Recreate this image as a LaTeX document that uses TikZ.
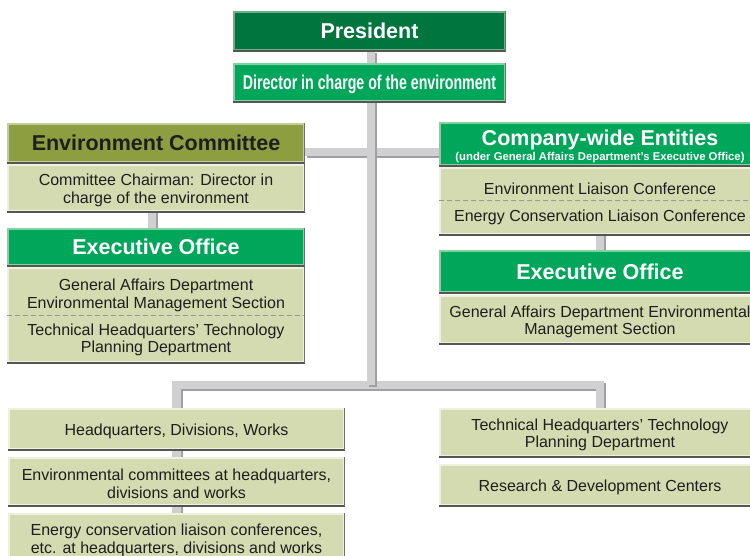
\documentclass[tikz,border=0pt]{standalone}
\usepackage{fontspec}
\setmainfont{Liberation Sans}
\newfontfamily\condb{Liberation Sans Bold}[FakeStretch=0.71]
\usetikzlibrary{calc,backgrounds}
\definecolor{presgreen}{RGB}{0,118,62}
\definecolor{presedge}{RGB}{110,175,130}
\definecolor{hdgreen}{RGB}{0,166,90}
\definecolor{hdedge}{RGB}{130,210,160}
\definecolor{olivec}{RGB}{140,158,64}
\definecolor{oliveedge}{RGB}{195,205,155}
\definecolor{khaki}{RGB}{213,219,176}
\definecolor{khakiedge}{RGB}{238,241,222}
\definecolor{txt}{RGB}{30,30,30}
\definecolor{shadec}{RGB}{85,85,85}
\definecolor{barlight}{RGB}{208,208,211}
\definecolor{bardark}{RGB}{160,160,163}
\definecolor{dashc}{RGB}{150,150,158}
\newcommand\barpath[1]{\draw[bardk] #1; \draw[barlt] #1;}
\newcommand\tup{\rule{0pt}{16pt}}
\begin{document}
\begin{tikzpicture}[x=1pt,y=-1pt,
  base/.style={rectangle, inner sep=0pt, line width=1.5pt},
  hfont/.style={font=\bfseries\fontsize{21.5}{24}\selectfont},
  hdr/.style={base, fill=hdgreen, draw=hdedge, text=white, hfont},
  pbox/.style={base, fill=presgreen, draw=presedge, text=white, hfont},
  obox/.style={base, fill=olivec, draw=oliveedge, text=txt, hfont},
  kbox/.style={base, fill=khaki, draw=khakiedge, text=txt, align=center, font=\fontsize{16}{17.5}\selectfont},
  lbl/.style={inner sep=0pt, text=txt, align=center, font=\fontsize{16}{17.5}\selectfont},
  wlbl/.style={inner sep=0pt, text=white, align=center},
  bardk/.style={draw=bardark, line width=8.5pt, transform canvas={shift={(2pt,-2pt)}}},
  barlt/.style={draw=barlight, line width=8.5pt},
  sepline/.style={draw=dashc, line width=1pt, dash pattern=on 5pt off 3pt},
  botedge/.style={draw=shadec, line width=2pt},
  rightedge/.style={draw=shadec!85, line width=1pt}]
\useasboundingbox (0,0) rectangle (750,556);

% top
\node[pbox, minimum width=271pt, minimum height=38pt] (pres) at (369.5,31) {President};
\node[hdr, font=\condb\fontsize{20}{22}\selectfont, text depth=0pt, minimum width=271pt, minimum height=37pt] (dir) at (369.5,82.5) {Director in charge of the environment};

% left column
\node[obox, minimum width=296pt, minimum height=38pt] (envc) at (156,143) {Environment Committee};
\node[kbox, minimum width=296pt, minimum height=46pt] (chair) at (156,188) {\tup Committee Chairman: Director in\\charge of the environment};
\node[hdr, minimum width=296pt, minimum height=36pt] (lexec) at (156,247) {Executive Office};
\node[kbox, minimum width=296pt, minimum height=94pt] (lbox) at (156,315) {};
\node[lbl] (lt1) at (156,293) {\tup General Affairs Department\\Environmental Management Section};
\node[lbl] (lt2) at (156,337.5) {\tup Technical Headquarters’ Technology\\Planning Department};
\coordinate (lsep) at (0,315);
\draw[sepline] (lbox.west |- lsep) -- (lbox.east |- lsep);

% right column
\node[hdr, minimum width=320pt, minimum height=42pt] (cw) at (600,144) {};
\node[wlbl, hfont] (cwt) at (600,139.5) {Company-wide Entities};
\node[wlbl, font=\bfseries\fontsize{11.3}{13}\selectfont] (cws) at (600,158) {(under General Affairs Department’s Executive Office)};
\node[kbox, minimum width=320pt, minimum height=66pt] (rbox1) at (600,201) {};
\node[lbl] (rt1) at (600,187) {\tup Environment Liaison Conference};
\node[lbl] (rt2) at (600,215) {\tup Energy Conservation Liaison Conference};
\coordinate (rsep) at (0,201);
\draw[sepline] (rbox1.west |- rsep) -- (rbox1.east |- rsep);
\node[hdr, minimum width=320pt, minimum height=41pt] (rexec) at (600,271.5) {Executive Office};
\node[kbox, minimum width=320pt, minimum height=47pt] (rbox2) at (600,319.5) {\tup General Affairs Department Environmental\\Management Section};

% bottom
\node[kbox, minimum width=335pt, minimum height=40pt] (hq) at (176.5,429) {\tup Headquarters, Divisions, Works};
\node[kbox, minimum width=335pt, minimum height=47pt] (envcom) at (176.5,481.5) {\tup Environmental committees at headquarters,\\divisions and works};
\node[kbox, minimum width=335pt, minimum height=48pt] (energy) at (176.5,538) {\tup Energy conservation liaison conferences,\\etc. at headquarters, divisions and works};
\node[kbox, minimum width=320pt, minimum height=47pt] (tech) at (600,432.5) {\tup Technical Headquarters’ Technology\\Planning Department};
\node[kbox, minimum width=320pt, minimum height=40pt] (rd) at (600,485) {\tup Research \& Development Centers};

% dark bottom / right edges
\foreach \n in {pres,dir,envc,chair,lexec,lbox,cw,rbox1,rexec,rbox2,hq,envcom,energy,tech,rd} {
  \draw[botedge] (\n.south west) -- (\n.south east);
  \draw[rightedge] (\n.south east) -- (\n.north east);
}

% connectors
\coordinate (jn) at (371,385);
\begin{scope}[on background layer]
  \fill[white] (0,0) rectangle (750,556);
  \barpath{([yshift=-9pt]envc.east) -- ([yshift=-9pt]envc.east -| cw.west)}
  \barpath{(tech.north) -- (tech.north |- jn) -- (hq.north |- jn) -- (energy.south)}
  \barpath{([xshift=-4pt]envc.south) -- ([xshift=-4pt]lexec.north)}
  \barpath{(cw.south) -- (rexec.north)}
  \barpath{(jn |- pres.south) -- (jn)}
\end{scope}
\end{tikzpicture}
\end{document}
